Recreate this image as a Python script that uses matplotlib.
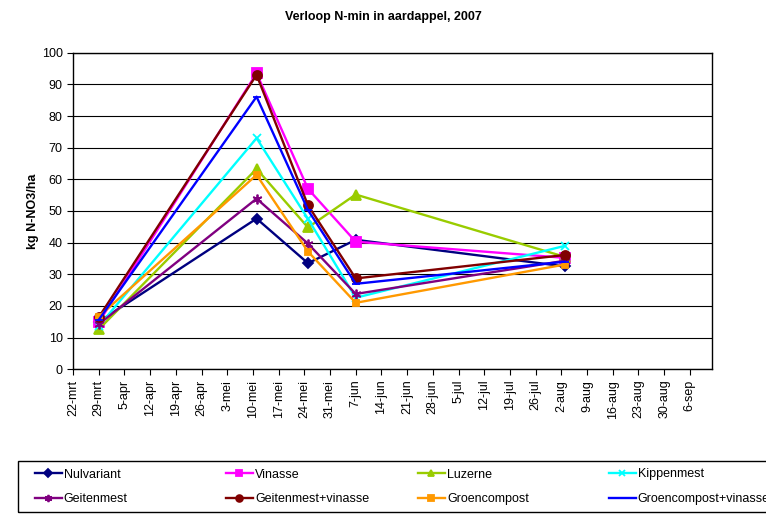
import datetime as dt
import matplotlib
matplotlib.use("Agg")
import matplotlib.pyplot as plt
from matplotlib.patches import Rectangle

plt.rcParams['font.family'] = ['Liberation Sans', 'DejaVu Sans']

# meetdata N-min (kg N-NO3/ha) per bemonsteringsdatum
datums = [dt.date(2007, 3, 29), dt.date(2007, 5, 11), dt.date(2007, 5, 25),
          dt.date(2007, 6, 7), dt.date(2007, 8, 3)]

nulvariant = [15.0, 47.6, 33.5, 40.9, 32.5]
vinasse = [14.8, 93.5, 57.0, 40.3, 35.2]
luzerne = [12.6, 63.3, 44.8, 55.2, 35.5]
kippenmest = [13.6, 73.0, 47.5, 22.6, 39.0]
geitenmest = [14.2, 53.9, 39.7, 23.8, 34.3]
geitenmest_vinasse = [16.4, 93.0, 51.8, 28.7, 36.1]
groencompost = [16.6, 61.4, 37.2, 21.0, 33.1]
groencompost_vinasse = [15.6, 86.1, 50.3, 27.0, 34.0]

series = [
    ("Nulvariant", nulvariant, "#000080", "D", 5),
    ("Vinasse", vinasse, "#FF00FF", "s", 6.5),
    ("Luzerne", luzerne, "#99CC00", "^", 6.5),
    ("Kippenmest", kippenmest, "#00FFFF", "x", 6),
    ("Geitenmest", geitenmest, "#800080", (6, 2, 0), 7),
    ("Geitenmest+vinasse", geitenmest_vinasse, "#800000", "o", 6.5),
    ("Groencompost", groencompost, "#FF9900", "s", 5),
    ("Groencompost+vinasse", groencompost_vinasse, "#0000FF", "_", 6),
]

maanden = {3: "mrt", 4: "apr", 5: "mei", 6: "jun", 7: "jul", 8: "aug", 9: "sep"}

fig = plt.figure(figsize=(7.66, 5.16), dpi=100)
ax = fig.add_axes([0.0953, 0.2843, 0.834, 0.6136])

lijnen = []
for naam, waarden, kleur, marker, ms in series:
    l, = ax.plot(datums, waarden, color=kleur, lw=1.7, marker=marker, ms=ms,
                 mew=1.3, label=naam)
    lijnen.append(l)

start = dt.date(2007, 3, 22)
ticks = [start + dt.timedelta(days=7 * i) for i in range(25)]
ax.set_xticks(ticks)
ax.set_xticklabels([f"{d.day}-{maanden[d.month]}" for d in ticks], rotation=90, fontsize=9)
ax.set_xlim(start, dt.date(2007, 9, 12))
ax.set_ylim(0, 100)
ax.set_yticks(range(0, 101, 10))
ax.tick_params(axis='y', labelsize=9, length=4, direction='out')
ax.tick_params(axis='x', length=4, direction='out')
ax.yaxis.grid(True, color='black', lw=0.8)
ax.set_axisbelow(True)
for s in ax.spines.values():
    s.set_color('black')
    s.set_linewidth(1)

ax.set_ylabel("kg N-NO3/ha", fontsize=9, fontweight='bold')
ax.yaxis.set_label_coords(-0.053, 0.5)
fig.text(0.5, 0.968, "Verloop N-min in aardappel, 2007", ha='center', va='center',
         fontsize=9, fontweight='bold')

# legenda: kader loopt door tot buiten de figuur, vier gelijke kolommen
W, H = 766, 516
fig.patches.append(Rectangle((18 / W, 1 - 512 / H), 1.0, 51 / H, transform=fig.transFigure,
                             fill=False, edgecolor='black', lw=1, clip_on=False))
kolom_x = [32, 223, 415, 606]
for k, x in enumerate(kolom_x):
    paar = [lijnen[k], lijnen[k + 4]]
    fig.legend(paar, [p.get_label() for p in paar], loc='upper left',
               bbox_to_anchor=(x / W, 1 - 466 / H), frameon=False, fontsize=9,
               handlelength=2.2, handletextpad=0.15, borderpad=0.2,
               labelspacing=1.0, markerscale=0.75, borderaxespad=0)

fig.savefig("out.png", dpi=100)
